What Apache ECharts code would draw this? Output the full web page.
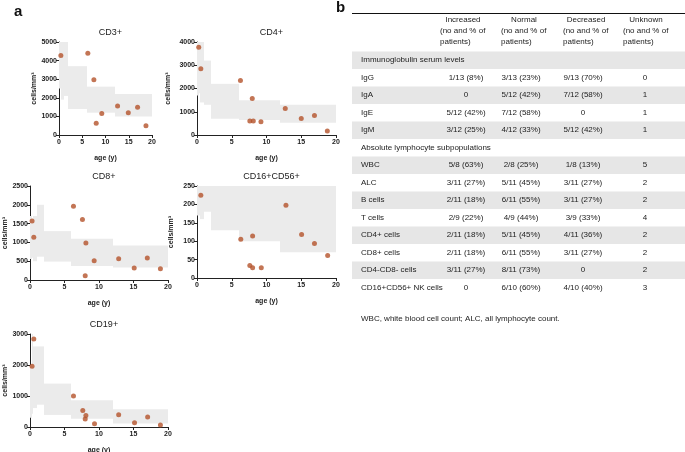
<!DOCTYPE html>
<html>
<head>
<meta charset="utf-8">
<script src="https://cdn.jsdelivr.net/npm/echarts@6.0.0/dist/echarts.min.js"></script>
<style>
  html, body { margin: 0; padding: 0; background: #fff; }
  #main { width: 685px; height: 452px; }
</style>
</head>
<body>
<div id="main"></div>
<script>
// age group edges of the reference ranges (years)
var ageEdges = [0, 0.25, 0.5, 1, 2, 6, 12, 20];

// reference ranges, low / high per age group
var cd3Low = [2500, 2500, 1900, 2100, 1400, 1200, 1000];
var cd3High = [5500, 5600, 5900, 6200, 3700, 2600, 2200];
var cd4Low = [1700, 1800, 1400, 1300, 700, 650, 530];
var cd4High = [4000, 4000, 4300, 3200, 2200, 1500, 1300];
var cd8Low = [560, 590, 500, 620, 490, 370, 330];
var cd8High = [1700, 1600, 1700, 2000, 1300, 1100, 920];
var nkLow = [170, 170, 160, 180, 130, 100, 70];
var nkHigh = [1100, 830, 950, 920, 720, 480, 480];
var cd19Low = [300, 430, 610, 720, 390, 270, 110];
var cd19High = [2000, 3000, 2600, 2600, 1400, 860, 570];

// patients
var cd3Age = [0.4, 6.2, 7.5, 8.0, 9.2, 12.6, 14.9, 16.9, 18.7];
var cd3Val = [4280, 4400, 2970, 630, 1150, 1560, 1200, 1490, 500];
var cd4Age = [0.25, 0.55, 6.25, 7.6, 7.95, 8.1, 9.2, 12.7, 15.0, 16.9, 18.75];
var cd4Val = [3770, 2850, 2340, 600, 1570, 600, 575, 1140, 705, 835, 170];
var cd8Age = [0.3, 0.55, 6.3, 7.6, 8.0, 8.1, 9.3, 12.85, 15.1, 17.0, 18.9];
var cd8Val = [1570, 1135, 1960, 1610, 110, 985, 515, 565, 320, 585, 300];
var nkAge = [0.55, 6.3, 7.6, 8.0, 8.0, 9.25, 12.8, 15.05, 16.9, 18.8];
var nkVal = [225, 105, 34, 114, 28, 28, 198, 118, 94, 61];
var cd19Age = [0.3, 0.55, 6.3, 7.65, 8.0, 8.1, 9.35, 12.85, 15.15, 17.05, 18.9];
var cd19Val = [1960, 2840, 1000, 535, 255, 375, 105, 395, 140, 320, 65];

// table b
var colHeads = ['Increased', 'Normal', 'Decreased', 'Unknown'];
var rowLabels = ['Immunoglobulin serum levels', 'IgG', 'IgA', 'IgE', 'IgM',
  'Absolute lymphocyte subpopulations', 'WBC', 'ALC', 'B cells', 'T cells',
  'CD4+ cells', 'CD8+ cells', 'CD4-CD8- cells', 'CD16+CD56+ NK cells'];
var colIncreased = ['', '1/13 (8%)', '0', '5/12 (42%)', '3/12 (25%)', '', '5/8 (63%)', '3/11 (27%)', '2/11 (18%)', '2/9 (22%)', '2/11 (18%)', '2/11 (18%)', '3/11 (27%)', '0'];
var colNormal = ['', '3/13 (23%)', '5/12 (42%)', '7/12 (58%)', '4/12 (33%)', '', '2/8 (25%)', '5/11 (45%)', '6/11 (55%)', '4/9 (44%)', '5/11 (45%)', '6/11 (55%)', '8/11 (73%)', '6/10 (60%)'];
var colDecreased = ['', '9/13 (70%)', '7/12 (58%)', '0', '5/12 (42%)', '', '1/8 (13%)', '3/11 (27%)', '3/11 (27%)', '3/9 (33%)', '4/11 (36%)', '3/11 (27%)', '0', '4/10 (40%)'];
var colUnknown = ['', '0', '1', '1', '1', '', '5', '2', '2', '4', '2', '2', '2', '3'];
var footnote = 'WBC, white blood cell count; ALC, all lymphocyte count.';

var FONT = '"Liberation Sans", Arial, Helvetica, sans-serif';
var DOT = '#b4532a';
var BAND = '#ebebeb';

function bandData(low, high) {
  return low.map(function (v, i) { return [ageEdges[i], ageEdges[i + 1], v, high[i]]; });
}
function pts(ages, vals) {
  return ages.map(function (a, i) { return [a, vals[i]]; });
}

function renderBand(params, api) {
  var p0 = api.coord([api.value(0), api.value(3)]);
  var p1 = api.coord([api.value(1), api.value(2)]);
  var cs = params.coordSys;
  var r = echarts.graphic.clipRectByRect(
    { x: Math.round(p0[0]), y: p0[1], width: Math.round(p1[0]) - Math.round(p0[0]), height: p1[1] - p0[1] },
    { x: cs.x, y: cs.y, width: cs.width, height: cs.height });
  if (!r) return;
  return { type: 'rect', shape: r, style: { fill: BAND } };
}

var panels = [
  { name: 'CD3+', grid: { left: 59, top: 42, width: 93, height: 93 }, max: 5000, step: 1000, gap: 21, band: bandData(cd3Low, cd3High), pts: pts(cd3Age, cd3Val) },
  { name: 'CD4+', grid: { left: 197, top: 42, width: 139, height: 93 }, max: 4000, step: 1000, gap: 25, band: bandData(cd4Low, cd4High), pts: pts(cd4Age, cd4Val) },
  { name: 'CD8+', grid: { left: 30, top: 186, width: 138, height: 94 }, max: 2500, step: 500, gap: 19, band: bandData(cd8Low, cd8High), pts: pts(cd8Age, cd8Val) },
  { name: 'CD16+CD56+', grid: { left: 197, top: 186, width: 139, height: 92 }, max: 250, step: 50, gap: 22, band: bandData(nkLow, nkHigh), pts: pts(nkAge, nkVal) },
  { name: 'CD19+', grid: { left: 30, top: 334, width: 138, height: 93 }, max: 3000, step: 1000, gap: 19, band: bandData(cd19Low, cd19High), pts: pts(cd19Age, cd19Val) }
];

var axisLbl = { fontFamily: FONT, fontSize: 7, fontWeight: 'bold', color: '#222' };
var option = {
  backgroundColor: '#fff',
  animation: false,
  title: [],
  grid: [],
  xAxis: [],
  yAxis: [],
  series: [],
  graphic: []
};

panels.forEach(function (p, i) {
  option.grid.push({ left: p.grid.left, top: p.grid.top, width: p.grid.width, height: p.grid.height, outerBoundsMode: 'none' });
  option.title.push({
    text: p.name, left: p.grid.left + p.grid.width / 2, top: p.grid.top - 19, textAlign: 'center',
    textStyle: { fontFamily: FONT, fontSize: 9, fontWeight: 'normal', color: '#222' }
  });
  option.xAxis.push({
    gridIndex: i, type: 'value', min: 0, max: 20, interval: 5,
    name: 'age (y)', nameLocation: 'middle', nameGap: 20,
    nameTextStyle: axisLbl,
    axisLine: { lineStyle: { color: '#222', width: 1 } },
    axisTick: { show: true, length: 3, lineStyle: { color: '#222' } },
    axisLabel: Object.assign({ margin: 4, formatter: function (v) { return String(v); } }, axisLbl),
    splitLine: { show: false }
  });
  option.yAxis.push({
    gridIndex: i, type: 'value', min: 0, max: p.max, interval: p.step,
    name: 'cells/mm³', nameLocation: 'middle', nameRotate: 90, nameGap: p.gap,
    nameTextStyle: axisLbl,
    axisLine: { show: true, lineStyle: { color: '#222', width: 1 } },
    axisTick: { show: true, length: 3, lineStyle: { color: '#222' } },
    axisLabel: Object.assign({ margin: 2, formatter: function (v) { return String(v); } }, axisLbl),
    splitLine: { show: false }
  });
  option.series.push({
    type: 'custom', xAxisIndex: i, yAxisIndex: i, renderItem: renderBand,
    data: p.band, silent: true, z: 1, encode: { x: [0, 1], y: [2, 3] }
  });
  option.series.push({
    type: 'scatter', xAxisIndex: i, yAxisIndex: i, data: p.pts,
    symbolSize: 5, itemStyle: { color: DOT }, z: 3
  });
});

// panel letters
option.graphic.push({ type: 'text', left: 14, top: 4, style: { text: 'a', font: 'bold 15px ' + FONT, fill: '#111' } });
option.graphic.push({ type: 'text', left: 336, top: 0, style: { text: 'b', font: 'bold 15px ' + FONT, fill: '#111' } });

// table b
var tX0 = 352, tX1 = 685;
var rowTop = 51.5, rowH = 17.5;
var colLeft = [440, 501, 563, 623];
var colMid = [466, 521, 583, 645];
var cols = [colIncreased, colNormal, colDecreased, colUnknown];
var tFont = '8px ' + FONT;
var tInk = '#222';

option.graphic.push({ type: 'line', shape: { x1: tX0, y1: 13.5, x2: tX1, y2: 13.5 }, style: { stroke: '#111', lineWidth: 1.2 } });
colHeads.forEach(function (h, c) {
  option.graphic.push({ type: 'text', x: colLeft[c] + 23, y: 20, style: { text: h, font: tFont, fill: tInk, align: 'center', verticalAlign: 'middle' } });
  option.graphic.push({ type: 'text', x: colLeft[c], y: 31, style: { text: '(no and % of', font: tFont, fill: tInk, align: 'left', verticalAlign: 'middle' } });
  option.graphic.push({ type: 'text', x: colLeft[c], y: 42, style: { text: 'patients)', font: tFont, fill: tInk, align: 'left', verticalAlign: 'middle' } });
});

rowLabels.forEach(function (lab, r) {
  var y = rowTop + r * rowH;
  if (r % 2 === 0) {
    option.graphic.push({ type: 'rect', shape: { x: tX0, y: y, width: tX1 - tX0, height: rowH }, style: { fill: '#e6e6e6' }, z: -1 });
  }
  option.graphic.push({ type: 'text', x: 361, y: y + rowH / 2, style: { text: lab, font: tFont, fill: tInk, align: 'left', verticalAlign: 'middle' } });
  cols.forEach(function (col, c) {
    if (!col[r]) return;
    option.graphic.push({ type: 'text', x: colMid[c], y: y + rowH / 2, style: { text: col[r], font: tFont, fill: tInk, align: 'center', verticalAlign: 'middle' } });
  });
});
option.graphic.push({ type: 'text', x: 361, y: rowTop + rowLabels.length * rowH + 22, style: { text: footnote, font: tFont, fill: tInk, align: 'left', verticalAlign: 'middle' } });

var chart = echarts.init(document.getElementById('main'), null, { renderer: 'canvas' });
chart.setOption(option);
</script>
</body>
</html>
